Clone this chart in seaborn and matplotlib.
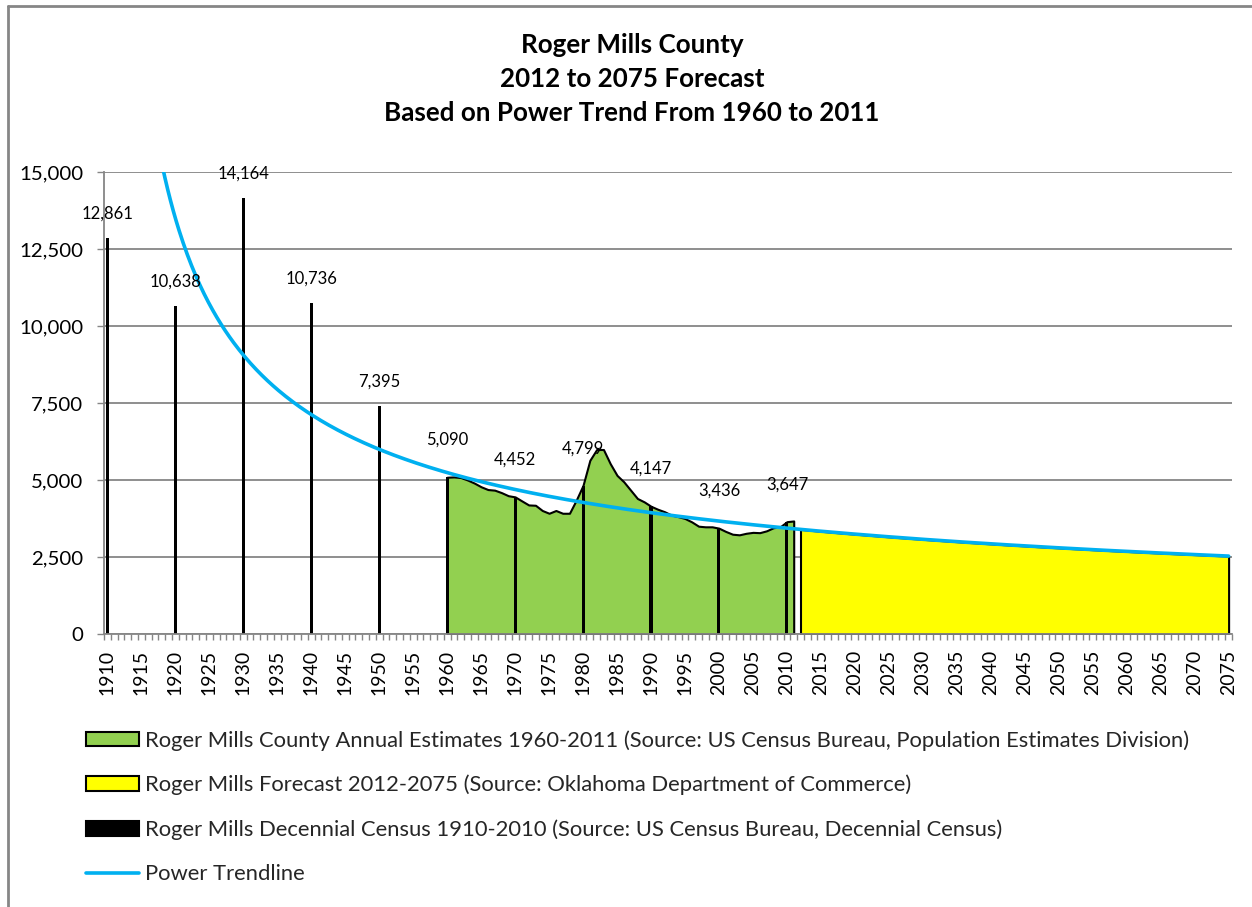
import numpy as np
import pandas as pd
import matplotlib
matplotlib.use("Agg")
import matplotlib.pyplot as plt
import seaborn as sns
from matplotlib.patches import Patch
from matplotlib.lines import Line2D
from matplotlib.ticker import FuncFormatter, FixedLocator

# ---------------- data ----------------
title_lines = ["Roger Mills County",
               "2012 to 2075 Forecast",
               "Based on Power Trend From 1960 to 2011"]

first_year = 1910
last_year = 2075

census_years = [1910, 1920, 1930, 1940, 1950, 1960, 1970, 1980, 1990, 2000, 2010]
census_values = [12861, 10638, 14164, 10736, 7395, 5090, 4452, 4799, 4147, 3436, 3647]

estimate_years = list(range(1960, 2012))
estimate_values = [5090, 5100, 5080, 5000, 4900, 4780, 4690, 4670, 4590, 4490,
                   4452, 4320, 4190, 4180, 4010, 3920, 4010, 3920, 3920, 4350,
                   4830, 5640, 5990, 5990, 5530, 5150, 4940, 4670, 4400, 4290,
                   4147, 4050, 3970, 3860, 3810, 3750, 3640, 3500, 3480, 3480,
                   3436, 3330, 3240, 3220, 3270, 3300, 3290, 3350, 3450, 3480,
                   3647, 3670]

forecast_years = list(range(2012, 2076))
forecast_values = [3396, 3376, 3356, 3336, 3317, 3298, 3279, 3261, 3243, 3225,
                   3207, 3190, 3173, 3156, 3139, 3123, 3106, 3091, 3075, 3059,
                   3044, 3029, 3014, 2999, 2984, 2970, 2956, 2941, 2928, 2914,
                   2900, 2887, 2874, 2861, 2848, 2835, 2822, 2810, 2798, 2785,
                   2773, 2762, 2750, 2738, 2727, 2715, 2704, 2693, 2682, 2671,
                   2660, 2650, 2639, 2629, 2618, 2608, 2598, 2588, 2578, 2568,
                   2558, 2549, 2539, 2530]

legend_labels = [
    "Roger Mills County Annual Estimates 1960-2011 (Source: US Census Bureau, Population Estimates Division)",
    "Roger Mills Forecast 2012-2075 (Source: Oklahoma Department of Commerce)",
    "Roger Mills Decennial Census 1910-2010 (Source: US Census Bureau, Decennial Census)",
    "Power Trendline",
]

# ---------------- style ----------------
GREEN = "#92D050"
YELLOW = "#FFFF00"
BLUE = "#00B0F0"
GRAY = "#868686"

sns.set_theme(style="white")
plt.rcParams["font.family"] = ["Lato", "DejaVu Sans"]

W, H = 1252, 907
fig = plt.figure(figsize=(W / 100, H / 100), dpi=100)
fig.patch.set_facecolor("white")
ax = fig.add_axes([104 / W, 1 - 634 / H, 1128 / W, 462 / H])

# areas
ax.fill_between(estimate_years, estimate_values, 0, facecolor=GREEN,
                edgecolor="black", linewidth=1.5, zorder=2)
ax.fill_between(forecast_years, forecast_values, 0, facecolor=YELLOW,
                edgecolor="black", linewidth=1.5, zorder=2)

# decennial census bars
census_df = pd.DataFrame({"year": census_years, "pop": census_values})
sns.barplot(data=census_df, x="year", y="pop", native_scale=True, width=0.045,
            color="black", saturation=1, edgecolor="none", linewidth=0,
            ax=ax, zorder=3)

# power trendline (power-law fit, log-log least squares)
fit_x = np.array(forecast_years) - first_year + 1
b, log_a = np.polyfit(np.log(fit_x), np.log(forecast_values), 1)
trend_years = np.linspace(first_year, last_year, 800)
trend_df = pd.DataFrame({"year": trend_years,
                         "pop": np.exp(log_a) * (trend_years - first_year + 1) ** b})
sns.lineplot(data=trend_df, x="year", y="pop", color=BLUE, linewidth=2.6,
             ax=ax, zorder=4)

# data labels
for yr, v in zip(census_years, census_values):
    dy = 17.5 if yr < 1960 else 27
    ax.annotate(f"{v:,}", xy=(yr, v), xytext=(0, dy), textcoords="offset points",
                ha="center", va="center", fontsize=12, color="black", zorder=6)

# axes
ax.set_xlim(first_year - 0.5, last_year + 0.5)
ax.set_ylim(0, 15000)
ax.set_xlabel("")
ax.set_ylabel("")
ax.yaxis.set_major_locator(FixedLocator(np.arange(0, 15001, 2500)))
ax.yaxis.set_major_formatter(FuncFormatter(lambda v, p: f"{v:,.0f}"))
label_years = list(range(first_year, last_year + 1, 5))
ax.xaxis.set_major_locator(FixedLocator(label_years))
ax.set_xticklabels([str(y) for y in label_years], rotation=90)
ax.xaxis.set_minor_locator(FixedLocator(np.arange(first_year - 0.5, last_year + 1, 1)))
ax.tick_params(axis="x", which="major", length=0, pad=11.5, labelsize=14, colors="black")
ax.tick_params(axis="x", which="minor", length=4.5, width=1, color=GRAY, direction="out",
               bottom=True)
ax.tick_params(axis="y", which="major", length=5, width=1, color=GRAY, direction="out",
               pad=10, labelsize=14.7, labelcolor="black", left=True)
ax.yaxis.grid(True, color=GRAY, linewidth=1.3)
ax.xaxis.grid(False)
ax.set_axisbelow(True)
for s in ["top", "right"]:
    ax.spines[s].set_visible(False)
for s in ["left", "bottom"]:
    ax.spines[s].set_color(GRAY)
    ax.spines[s].set_linewidth(1.3)
ax.spines["bottom"].set_zorder(5)

# title
for i, line in enumerate(title_lines):
    fig.text(632 / W, 1 - (45 + 34 * i) / H, line, ha="center", va="center",
             fontsize=18.7, fontweight="bold", color="black")

# legend
handles = [
    Patch(facecolor=GREEN, edgecolor="black", linewidth=1.5),
    Patch(facecolor=YELLOW, edgecolor="black", linewidth=1.5),
    Patch(facecolor="black", edgecolor="black", linewidth=1.5),
    Line2D([0], [0], color=BLUE, linewidth=2.6),
]
fig.legend(handles, legend_labels, loc="upper left",
           bbox_to_anchor=(86 / W, 1 - 730 / H), frameon=False,
           fontsize=15.8, handlelength=2.4, handleheight=0.65, handletextpad=0.3,
           labelspacing=1.1, borderpad=0, borderaxespad=0)

# chart border
fig.add_artist(Line2D([8 / W, 8 / W], [0, 1 - 6 / H], color=GRAY, linewidth=2,
                      transform=fig.transFigure))
fig.add_artist(Line2D([8 / W, 1], [1 - 6 / H, 1 - 6 / H], color=GRAY, linewidth=2,
                      transform=fig.transFigure))

fig.savefig("out.png", dpi=100, facecolor="white")
